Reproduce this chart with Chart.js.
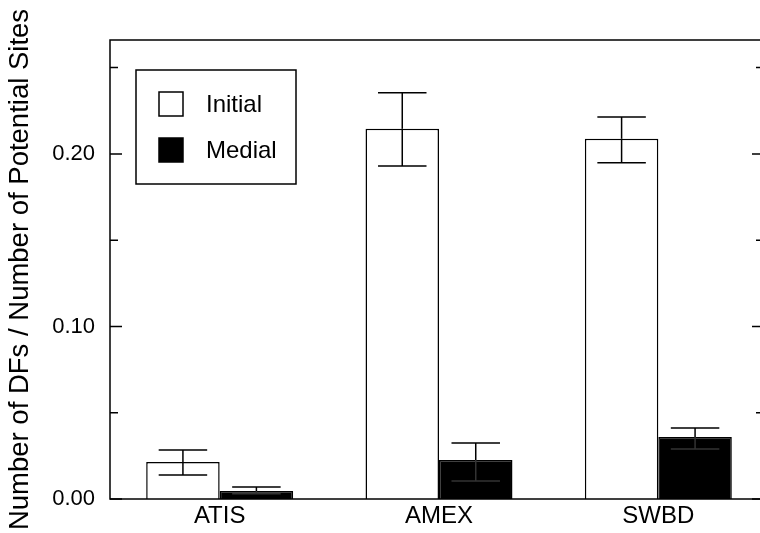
<!DOCTYPE html>
<html>
<head>
<meta charset="utf-8">
<script src="https://cdn.jsdelivr.net/npm/chart.js@4"></script>
<style>
  html, body { margin: 0; padding: 0; background: #fff; overflow: hidden; }
  #wrap { width: 768px; height: 533px; }
</style>
</head>
<body>
<div id="wrap"><canvas id="chart1"></canvas></div>
<script>
const categories = ["ATIS", "AMEX", "SWBD"];
const initialValues = [0.0214, 0.2145, 0.2087];
const initialLow = [0.0139, 0.1930, 0.1948];
const initialHigh = [0.0284, 0.2354, 0.2214];
const medialValues = [0.0046, 0.0226, 0.0359];
const medialLow = [0.0030, 0.0104, 0.0290];
const medialHigh = [0.0070, 0.0325, 0.0412];
const yMajorTicks = [0, 0.1, 0.2];
const yMinorTicks = [0.05, 0.15, 0.25];
const yMax = 0.266;

const errLows = [initialLow, medialLow];
const errHighs = [initialHigh, medialHigh];
const FONT = "'Liberation Sans', Arial, sans-serif";

// error bars, frame with inward ticks, boxed legend
const decor = {
  id: "decor",
  afterDatasetsDraw(chart) {
    const ctx = chart.ctx;
    const y = chart.scales.y;
    const area = chart.chartArea;
    ctx.save();
    ctx.lineWidth = 1.5;
    chart.data.datasets.forEach((ds, di) => {
      const meta = chart.getDatasetMeta(di);
      meta.data.forEach((bar, i) => {
        const yl = y.getPixelForValue(errLows[di][i]);
        const yh = y.getPixelForValue(errHighs[di][i]);
        const yv = y.getPixelForValue(ds.data[i]);
        const half = bar.width * 0.33;
        const inside = di === 1 ? "#333" : "#000";
        ctx.strokeStyle = "#000";
        ctx.beginPath();
        ctx.moveTo(bar.x, yh); ctx.lineTo(bar.x, yv);
        ctx.moveTo(bar.x - half, yh); ctx.lineTo(bar.x + half, yh);
        ctx.stroke();
        ctx.strokeStyle = inside;
        ctx.beginPath();
        ctx.moveTo(bar.x, yv); ctx.lineTo(bar.x, yl);
        ctx.moveTo(bar.x - half, yl); ctx.lineTo(bar.x + half, yl);
        ctx.stroke();
      });
    });
    // frame
    ctx.strokeStyle = "#000";
    ctx.strokeRect(area.left, area.top, area.right - area.left, area.bottom - area.top);
    ctx.beginPath();
    yMajorTicks.forEach(v => {
      const py = y.getPixelForValue(v);
      ctx.moveTo(area.left, py); ctx.lineTo(area.left + 12, py);
      ctx.moveTo(area.right, py); ctx.lineTo(area.right - 16, py);
    });
    yMinorTicks.forEach(v => {
      const py = y.getPixelForValue(v);
      ctx.moveTo(area.left, py); ctx.lineTo(area.left + 8, py);
      ctx.moveTo(area.right, py); ctx.lineTo(area.right - 12, py);
    });
    ctx.stroke();
    ctx.restore();
  },
  afterDraw(chart) {
    const ctx = chart.ctx;
    const area = chart.chartArea;
    const bx = area.left + 26, by = area.top + 30;
    ctx.save();
    ctx.fillStyle = "#fff";
    ctx.fillRect(bx, by, 160, 114);
    ctx.lineWidth = 1.5;
    ctx.strokeStyle = "#000";
    ctx.strokeRect(bx, by, 160, 114);
    ctx.font = "24px " + FONT;
    ctx.textBaseline = "middle";
    chart.data.datasets.forEach((ds, i) => {
      const sy = by + 22 + i * 46;
      ctx.fillStyle = ds.backgroundColor;
      ctx.fillRect(bx + 23, sy, 24, 24);
      ctx.strokeRect(bx + 23, sy, 24, 24);
      ctx.fillStyle = "#000";
      ctx.fillText(ds.label, bx + 70, sy + 13);
    });
    ctx.restore();
  }
};

new Chart(document.getElementById("chart1"), {
  type: "bar",
  data: {
    labels: categories,
    datasets: [
      { label: "Initial", data: initialValues, backgroundColor: "#ffffff", borderColor: "#000000", borderWidth: 1.5 },
      { label: "Medial", data: medialValues, backgroundColor: "#000000", borderColor: "#000000", borderWidth: 1.5 }
    ]
  },
  options: {
    responsive: true,
    maintainAspectRatio: false,
    animation: false,
    layout: { padding: { top: 40, right: 0, bottom: 0, left: 0 } },
    datasets: { bar: { categoryPercentage: 0.67, barPercentage: 1.0 } },
    plugins: { legend: { display: false }, tooltip: { enabled: false } },
    scales: {
      x: {
        grid: { display: false, drawTicks: false },
        border: { display: false },
        ticks: { color: "#000", font: { family: FONT, size: 24 }, padding: 3 },
        afterFit(s) { s.height = 34; }
      },
      y: {
        min: 0,
        max: yMax,
        grid: { display: false, drawTicks: false },
        border: { display: false },
        ticks: {
          stepSize: 0.1,
          color: "#000",
          font: { family: FONT, size: 22 },
          padding: 15,
          callback: v => yMajorTicks.some(t => Math.abs(t - v) < 1e-9) ? v.toFixed(2) : ""
        },
        title: {
          display: true,
          text: "Number of DFs / Number of Potential Sites",
          color: "#000",
          font: { family: FONT, size: 27.5 },
          padding: { top: 4, bottom: 0 }
        },
        afterFit(s) { s.width = 110; }
      }
    }
  },
  plugins: [decor]
});
</script>
</body>
</html>
